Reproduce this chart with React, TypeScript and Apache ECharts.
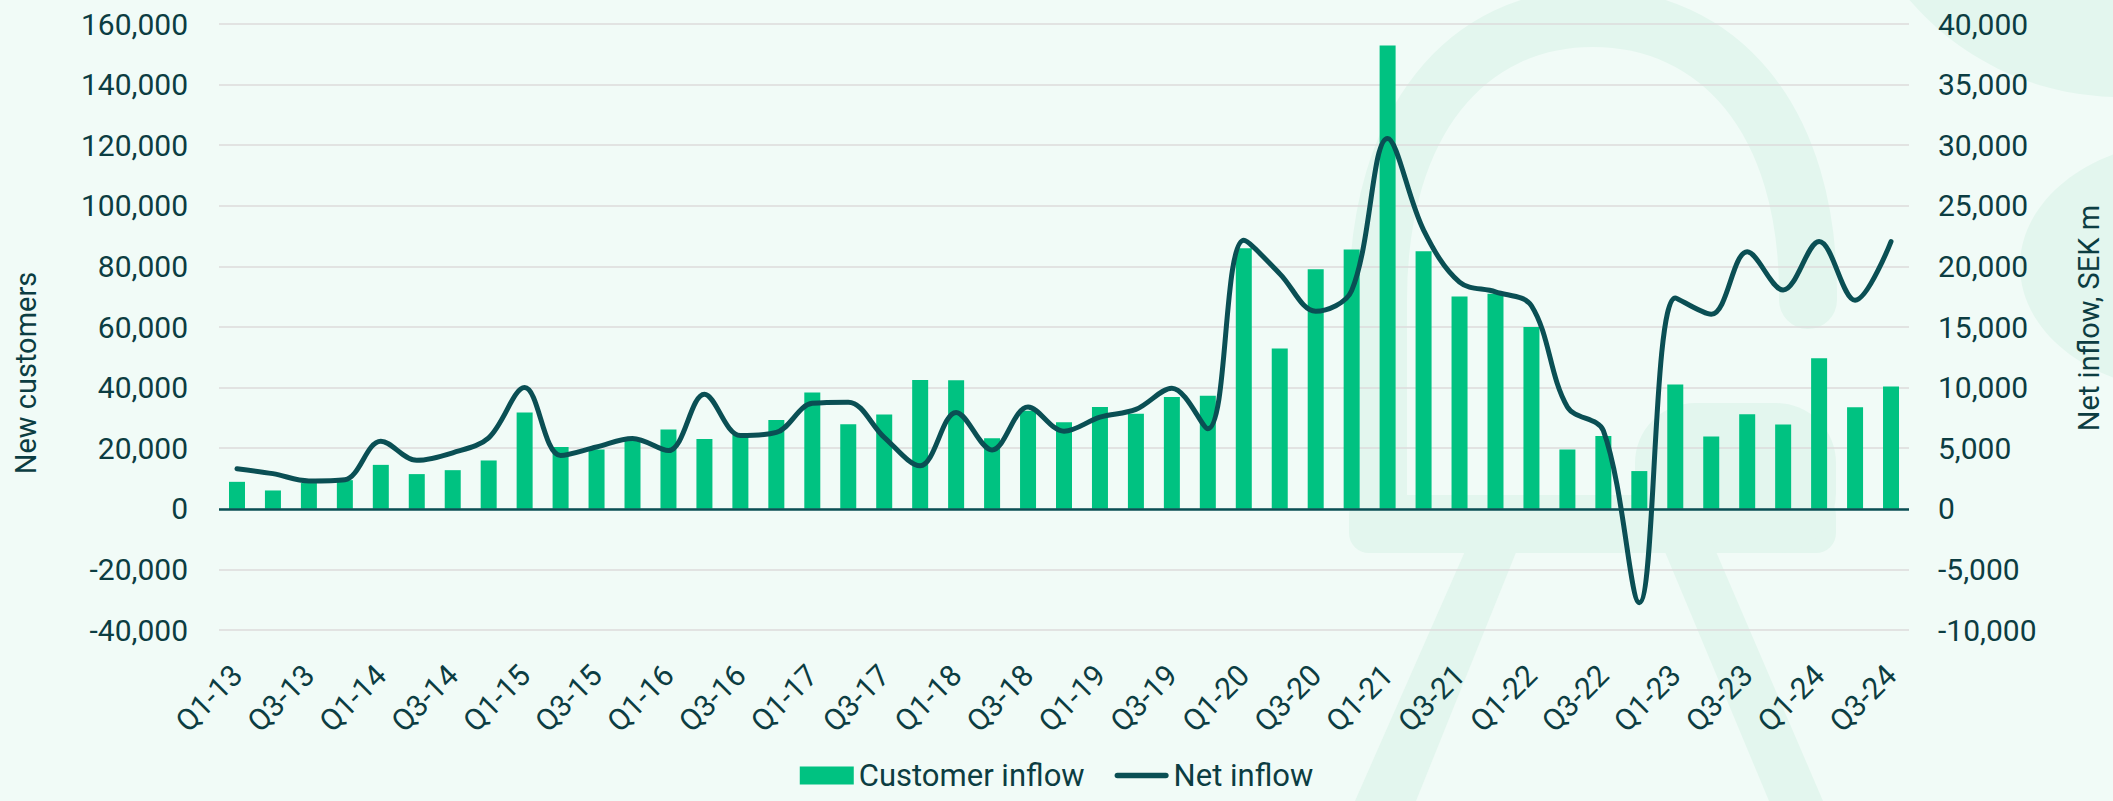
import React, { useEffect, useRef } from "react";
import * as echarts from "echarts";

const categories = [
  "Q1-13", "Q2-13", "Q3-13", "Q4-13",
  "Q1-14", "Q2-14", "Q3-14", "Q4-14",
  "Q1-15", "Q2-15", "Q3-15", "Q4-15",
  "Q1-16", "Q2-16", "Q3-16", "Q4-16",
  "Q1-17", "Q2-17", "Q3-17", "Q4-17",
  "Q1-18", "Q2-18", "Q3-18", "Q4-18",
  "Q1-19", "Q2-19", "Q3-19", "Q4-19",
  "Q1-20", "Q2-20", "Q3-20", "Q4-20",
  "Q1-21", "Q2-21", "Q3-21", "Q4-21",
  "Q1-22", "Q2-22", "Q3-22", "Q4-22",
  "Q1-23", "Q2-23", "Q3-23", "Q4-23",
  "Q1-24", "Q2-24", "Q3-24",
];

const customerInflow = [
  8900, 6050, 8500, 9450,
  14500, 11450, 12750, 15950,
  31800, 20400, 19600, 22500,
  26200, 23000, 24400, 29300,
  38400, 27900, 31100, 42500,
  42400, 23300, 32400, 28600,
  33600, 31400, 36900, 37300,
  86000, 52900, 79100, 85600,
  152900, 85000, 70100, 71000,
  60000, 19600, 24000, 12450,
  41000, 23900, 31200, 27800,
  49700, 33500, 40400,
];

const netInflow = [
  3300, 2900, 2300, 2400,
  5580, 4000, 4620, 5860,
  10000, 4400, 5100, 5800,
  4800, 9450, 6050, 6300,
  8700, 8800, 5900, 3550,
  7950, 4850, 8400, 6400,
  7560, 8200, 9950, 6600,
  22150, 19400, 16300, 18000,
  30550, 23000, 18700, 17900,
  16750, 8400, 6450, -7750,
  17400, 16050, 21200, 18050,
  22050, 17200, 22050,
];

const leftMin = -40000;
const leftMax = 160000;
const leftStep = 20000;
const rightMin = -10000;
const rightMax = 40000;
const rightStep = 5000;

const seriesNames = ["Customer inflow", "Net inflow"];
const axisTitles = ["New customers", "Net inflow, SEK m"];

const TEXT = "#0c3d42";
const GREEN = "#00c281";
const LINE = "#0a4f54";
const BG = "#f1fbf7";
const WM = "#e3f6ee";
const FONT = "Roboto, 'Noto Sans', sans-serif";

const fmt = (v: number) => v.toLocaleString("en-US");

export default function App() {
  const ref = useRef<HTMLDivElement>(null);

  useEffect(() => {
    document.body.style.margin = "0";
    echarts.graphic.registerShape(
      "wmRing",
      echarts.graphic.extendPath(
        "M 1808 300 C 1810 115 1715 18 1593 18 C 1468 18 1378 120 1378 300 L 1378 500",
        {}
      )
    );
    const chart = echarts.init(ref.current!, null, { renderer: "svg" });
    chart.setOption({
      animation: false,
      backgroundColor: BG,
      textStyle: { fontFamily: FONT },
      graphic: [
        {
          type: "wmRing",
          z: -10,
          silent: true,
          style: { fill: "none", stroke: WM, lineWidth: 58, lineCap: "round" },
        },
        {
          type: "rect",
          z: -10,
          silent: true,
          shape: { x: 1349, y: 495, width: 487, height: 58, r: 20 },
          style: { fill: WM },
        },
        {
          type: "rect",
          z: -10,
          silent: true,
          shape: { x: 1635, y: 403, width: 201, height: 150, r: 60 },
          style: { fill: WM },
        },
        {
          type: "polygon",
          z: -10,
          silent: true,
          shape: { points: [[1470, 540], [1521, 540], [1416, 801], [1355, 801]] },
          style: { fill: WM },
        },
        {
          type: "polygon",
          z: -10,
          silent: true,
          shape: { points: [[1660, 540], [1711, 540], [1823, 801], [1769, 801]] },
          style: { fill: WM },
        },
        {
          type: "circle",
          z: -10,
          silent: true,
          shape: { cx: 2120, cy: -180, r: 277 },
          style: { fill: WM },
        },
        {
          type: "ellipse",
          z: -10,
          silent: true,
          shape: { cx: 2190, cy: 266, rx: 170, ry: 125 },
          style: { fill: WM },
        },
        {
          type: "text",
          x: 26,
          y: 373,
          rotation: Math.PI / 2,
          style: {
            text: axisTitles[0],
            fontSize: 29,
            fontFamily: FONT,
            fill: TEXT,
            align: "center",
            verticalAlign: "middle",
          },
        },
        {
          type: "text",
          x: 2089,
          y: 318,
          rotation: Math.PI / 2,
          style: {
            text: axisTitles[1],
            fontSize: 29,
            fontFamily: FONT,
            fill: TEXT,
            align: "center",
            verticalAlign: "middle",
          },
        },
      ],
      grid: { left: 219, right: 204, top: 24, bottom: 171, containLabel: false },
      legend: {
        data: [
          { name: seriesNames[0], icon: "rect" },
          {
            name: seriesNames[1],
            icon: "path://M3,0 L55,0 A3,3 0 0 1 55,6 L3,6 A3,3 0 0 1 3,0 Z",
          },
        ],
        left: "center",
        top: 760,
        padding: 0,
        itemWidth: 54,
        itemHeight: 18,
        itemGap: 30,
        textStyle: { fontSize: 31, color: TEXT, fontFamily: FONT },
      },
      xAxis: {
        type: "category",
        data: categories,
        boundaryGap: true,
        axisLine: { show: false, onZero: false },
        axisTick: { show: false },
        splitLine: { show: false },
        axisLabel: {
          interval: 1,
          rotate: 45,
          margin: 40,
          fontSize: 30,
          color: TEXT,
          fontFamily: FONT,
        },
      },
      yAxis: [
        {
          type: "value",
          min: leftMin,
          max: leftMax,
          interval: leftStep,
          axisLine: { show: false },
          axisTick: { show: false },
          splitLine: { show: true, lineStyle: { color: "#dddbdb", width: 1.5 } },
          axisLabel: {
            formatter: fmt,
            fontSize: 30,
            color: TEXT,
            margin: 31,
            fontFamily: FONT,
          },
        },
        {
          type: "value",
          min: rightMin,
          max: rightMax,
          interval: rightStep,
          axisLine: { show: false },
          axisTick: { show: false },
          splitLine: { show: false },
          axisLabel: {
            formatter: fmt,
            fontSize: 30,
            color: TEXT,
            margin: 29,
            fontFamily: FONT,
          },
        },
      ],
      series: [
        {
          name: seriesNames[0],
          type: "bar",
          data: customerInflow,
          barWidth: 16,
          itemStyle: { color: GREEN },
          z: 2,
          markLine: {
            silent: true,
            symbol: "none",
            label: { show: false },
            lineStyle: { color: LINE, width: 2.5, type: "solid" },
            data: [{ yAxis: 0 }],
          },
        },
        {
          name: seriesNames[1],
          type: "line",
          yAxisIndex: 1,
          data: netInflow,
          smooth: 0.35,
          symbol: "none",
          showSymbol: false,
          lineStyle: { color: LINE, width: 5, cap: "round" },
          itemStyle: { color: LINE },
          z: 5,
        },
      ],
    });
    return () => chart.dispose();
  }, []);

  return (
    <div
      ref={ref}
      style={{ position: "fixed", left: 0, top: 0, width: 2113, height: 801 }}
    />
  );
}
